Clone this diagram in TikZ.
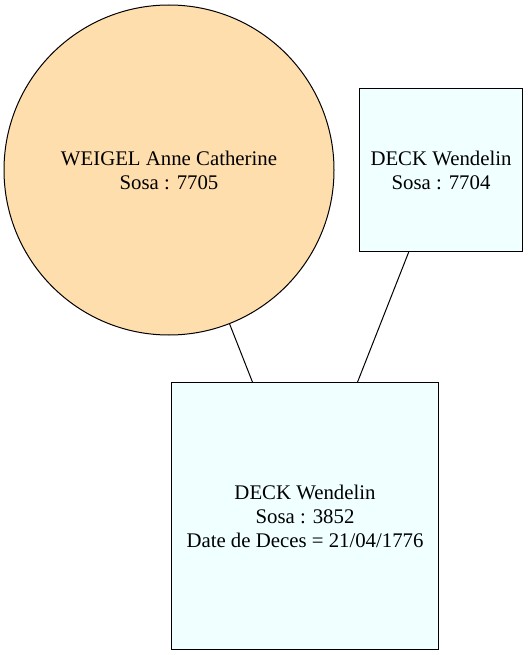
\documentclass[tikz,border=0pt]{standalone}
\usepackage{fontspec}
\setmainfont{Liberation Serif}
\usetikzlibrary{positioning}

\tikzset{
  person/.style={draw=black, line width=1pt, align=center, inner sep=0pt,
    font=\fontsize{20.8}{24}\selectfont},
  female/.style={person, circle, fill=femfill, minimum size=330pt},
  male/.style={person, rectangle, fill=malefill},
  link/.style={draw=black, line width=1pt}
}
\definecolor{femfill}{HTML}{FFDEAD}
\definecolor{malefill}{HTML}{F0FFFF}

\begin{document}
\begin{tikzpicture}[x=1pt, y=-1pt]
  \useasboundingbox (0,0) rectangle (528,655);
  %Define nodes
  \node[female] (mother) at (169,170) {WEIGEL Anne Catherine\\Sosa : 7705};
  \node[male, minimum size=163pt] (father) at (441,170) {DECK Wendelin\\Sosa : 7704};
  \node[male, minimum size=267pt] (child) at (305,516) {DECK Wendelin\\Sosa : 3852\\Date de Deces = 21/04/1776};

  % Connect the nodes
  \draw[link] (mother) -- (child);
  \draw[link] (father) -- (child);
\end{tikzpicture}
\end{document}
